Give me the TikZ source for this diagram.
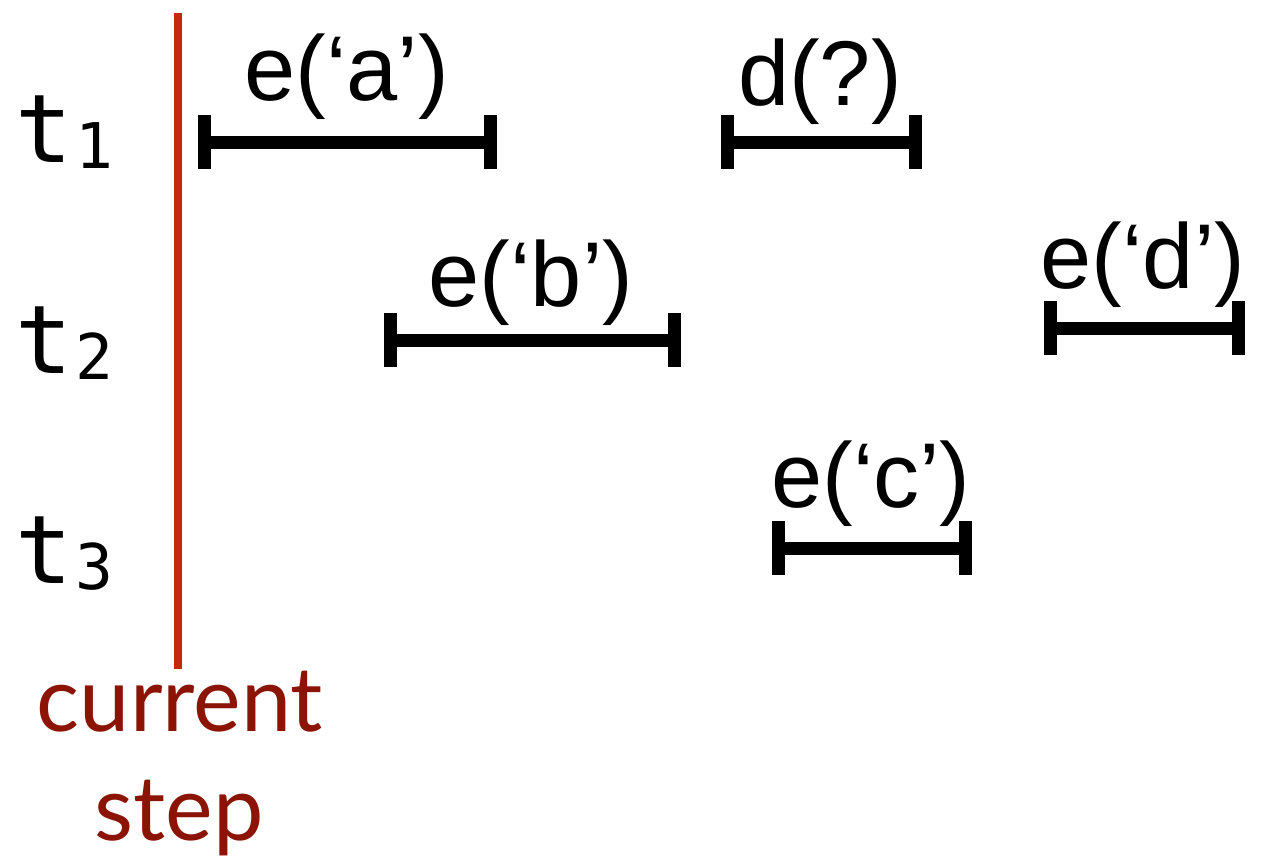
\documentclass[tikz,border=0pt]{standalone}
\usepackage{fontspec}
\setmainfont{Liberation Sans}
\newfontfamily\monof{DejaVu Sans Mono}
\newfontfamily\gillf{Lato}
\definecolor{stepred}{RGB}{200,40,10}
\definecolor{stepdark}{RGB}{139,20,5}
\tikzset{
  barline/.style={line width=13pt, black},
  tickline/.style={line width=13pt, black},
  lab/.style={anchor=base, inner sep=0pt, font=\fontsize{92}{110}\selectfont},
  tlab/.style={anchor=base west, inner sep=0pt, font=\monof\fontsize{95}{110}\selectfont},
  steplab/.style={anchor=base, inner sep=0pt, text=stepdark, font=\gillf\fontsize{90}{109}\selectfont},
}
\newcommand{\tsub}[1]{t\kern3pt\raisebox{-6pt}{\fontsize{63}{63}\selectfont #1}}
\newcommand{\interval}[2]{%
  \draw[barline] (#1) -- (#2);
  \draw[tickline] ([yshift=27pt]#1) -- ([yshift=-27pt]#1);
  \draw[tickline] ([yshift=27pt]#2) -- ([yshift=-27pt]#2);}
\begin{document}
\begin{tikzpicture}[x=1pt,y=-1pt]
\useasboundingbox (0,0) rectangle (1276,860);
% current step line
\coordinate (ltop) at (177.5,13);
\coordinate (lbot) at (177.5,669);
\draw[stepred, line width=8pt] (ltop) -- (lbot);
\node[steplab] (cur) at (180,731) {current};
\node[steplab] (stp) at (179,840) {step};
% row labels
\node[tlab] (t1) at (15,162) {\tsub{1}};
\node[tlab] (t2) at (15,373) {\tsub{2}};
\node[tlab] (t3) at (15,583) {\tsub{3}};
% intervals
\coordinate (a1) at (204.5,142); \coordinate (a2) at (490,142);
\coordinate (q1) at (727,142);   \coordinate (q2) at (915,142);
\coordinate (b1) at (390,340);   \coordinate (b2) at (674,340);
\coordinate (d1) at (1050,328);  \coordinate (d2) at (1238,328);
\coordinate (c1) at (778,548);   \coordinate (c2) at (965.5,548);
\interval{a1}{a2}
\interval{q1}{q2}
\interval{b1}{b2}
\interval{d1}{d2}
\interval{c1}{c2}
% labels
\node[lab] (la) at (346.5,100) {e(‘a’)};
\node[lab] (lq) at (820,105) {d(?)};
\node[lab] (lb) at (531,306) {e(‘b’)};
\node[lab] (ld) at (1143,288) {e(‘d’)};
\node[lab] (lc) at (871,507) {e(‘c’)};
\end{tikzpicture}
\end{document}
